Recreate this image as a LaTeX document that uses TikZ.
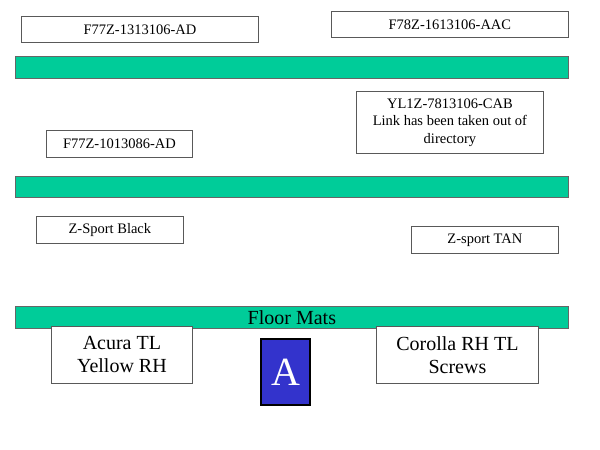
\documentclass[tikz,border=0pt]{standalone}
\usepackage{fontspec}
\setmainfont{Liberation Serif}
\definecolor{barg}{HTML}{00CC99}
\definecolor{abl}{HTML}{3333CC}
\tikzset{
  lbl/.style={draw=black!65, fill=white, line width=0.8pt, inner sep=0pt, anchor=north west, align=center, font=\fontsize{14.5}{17.5}\selectfont},
  big/.style={lbl, font=\fontsize{20}{23}\selectfont},
  bar/.style={draw=black!60, fill=barg, line width=0.8pt, inner sep=0pt, anchor=north west, minimum width=553pt, font=\fontsize{20}{23}\selectfont},
}
\begin{document}
\begin{tikzpicture}[x=1pt,y=-1pt]
\useasboundingbox[fill=white] (0,0) rectangle (600,450);
\node[lbl, minimum width=237pt, minimum height=26pt] (b1) at (21,16) {F77Z-1313106-AD};
\node[lbl, minimum width=237pt, minimum height=26pt] (b2) at (331,11) {F78Z-1613106-AAC};
\node[bar, minimum height=22pt] (bar1) at (15,56) {};
\node[lbl, minimum width=187pt, minimum height=62pt] (b3) at (356,91) {YL1Z-7813106-CAB\\Link has been taken out of\\directory};
\node[lbl, minimum width=146pt, minimum height=27pt] (b4) at (46,130) {F77Z-1013086-AD};
\node[bar, minimum height=21pt] (bar2) at (15,176) {};
\node[lbl, minimum width=147pt, minimum height=27pt] (zb) at (36,216) {Z-Sport Black};
\node[lbl, minimum width=147pt, minimum height=27pt] (zt) at (411,226) {Z-sport TAN};
\node[bar, minimum height=22pt] (bar3) at (15,306) {Floor Mats};
\node[big, minimum width=141pt, minimum height=57pt] (acura) at (51,326) {Acura TL\\Yellow RH};
\node[big, minimum width=162pt, minimum height=57pt] (corolla) at (376,326) {Corolla RH TL\\Screws};
\node[draw=black, fill=abl, line width=2pt, inner sep=0pt, anchor=north west, minimum width=49pt, minimum height=66pt, text=white, font=\fontsize{40}{44}\selectfont] (a) at (260,338) {A};
\end{tikzpicture}
\end{document}
